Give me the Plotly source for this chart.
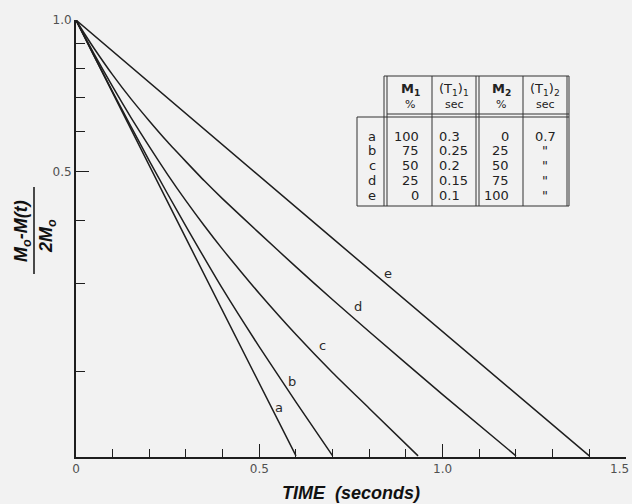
import plotly.graph_objects as go
import math

# ---- data ----
t_a = [0.0, 0.3, 0.6]
v_a = [1.0, 0.368, 0.136]
t_b = [0.0, 0.025, 0.05, 0.1, 0.15, 0.2, 0.25, 0.3, 0.4, 0.5, 0.6, 0.7]
v_b = [1.0, 0.920, 0.847, 0.720, 0.614, 0.525, 0.451, 0.389, 0.292, 0.224, 0.174, 0.136]
t_c = [0.0, 0.025, 0.05, 0.1, 0.15, 0.2, 0.25, 0.3, 0.35, 0.4, 0.45, 0.5, 0.6, 0.7, 0.8, 0.933]
v_c = [1.0, 0.924, 0.855, 0.737, 0.640, 0.560, 0.493, 0.437, 0.390, 0.350, 0.316, 0.286,
       0.237, 0.199, 0.169, 0.136]
t_d = [0.0, 0.025, 0.05, 0.1, 0.15, 0.2, 0.25, 0.3, 0.35, 0.4, 0.5, 0.6, 0.7, 0.8, 1.0, 1.2]
v_d = [1.0, 0.935, 0.877, 0.778, 0.697, 0.630, 0.572, 0.523, 0.479, 0.441, 0.377, 0.323,
       0.278, 0.240, 0.180, 0.136]
t_e = [0.0, 0.7, 1.4]
v_e = [1.0, 0.368, 0.136]

curve_labels = ["a", "b", "c", "d", "e"]
label_t = [0.554, 0.589, 0.671, 0.769, 0.851]
label_v = [0.170, 0.191, 0.225, 0.270, 0.313]

x_tickvals = [0, 0.5, 1.0, 1.5]
x_ticktext = ["0", "0.5", "1.0", ""]
x_last_label = "1.5"
y_tickvals = [1.0, 0.5]
y_ticktext = ["1.0", "0.5"]
y_minor = [0.2, 0.3, 0.4, 0.6, 0.7, 0.8, 0.9]

tbl_rows = ["a", "b", "c", "d", "e"]
tbl_m1 = ["100", "75", "50", "25", "0"]
tbl_t11 = ["0.3", "0.25", "0.2", "0.15", "0.1"]
tbl_m2 = ["0", "25", "50", "75", "100"]
tbl_t12 = ["0.7", "\"", "\"", "\"", "\""]

# ---- layout geometry ----
W, H = 632, 504
ML, MR, MT, MB = 76, 6, 20, 47
PW, PH = W - ML - MR, H - MT - MB

def px(x):
    return (x - ML) / PW

def py(y):
    return (H - MB - y) / PH

INK = "#1e1e1e"
TXT = "#505050"
FONT = "DejaVu Sans"

fig = go.Figure()
for t, v in [(t_a, v_a), (t_b, v_b), (t_c, v_c), (t_d, v_d), (t_e, v_e)]:
    fig.add_trace(go.Scatter(x=t, y=v, mode="lines",
                             line=dict(color=INK, width=1.5, shape="spline", smoothing=0.6),
                             cliponaxis=False, showlegend=False,
                             hoverinfo="skip"))

annotations = []
for lab, lt, lv in zip(curve_labels, label_t, label_v):
    annotations.append(dict(x=lt, y=math.log10(lv), xref="x", yref="y",
                            text=lab, showarrow=False,
                            font=dict(family=FONT, size=13, color="#2a2a2a")))

# last x tick label, kept inside the page edge
annotations.append(dict(x=px(631), y=py(469), xref="paper", yref="paper",
                        xanchor="right", yanchor="middle", text=x_last_label,
                        showarrow=False,
                        font=dict(family=FONT, size=12, color=TXT)))

# axis titles
annotations.append(dict(x=0.5, y=py(493), xref="paper", yref="paper",
                        xanchor="center", yanchor="middle",
                        text="<b><i>TIME  (seconds)</i></b>", showarrow=False,
                        font=dict(family="Liberation Sans", size=18, color="#111")))
annotations.append(dict(x=px(22), y=py(231), xref="paper", yref="paper",
                        xanchor="center", yanchor="middle",
                        text="<b><i>M<sub>o</sub>-M(t)</i></b>", showarrow=False,
                        textangle=-90,
                        font=dict(family="Liberation Sans", size=18, color="#111")))
annotations.append(dict(x=px(48), y=py(236), xref="paper", yref="paper",
                        xanchor="center", yanchor="middle",
                        text="<b><i>2M<sub>o</sub></i></b>", showarrow=False,
                        textangle=-90,
                        font=dict(family="Liberation Sans", size=18, color="#111")))

shapes = [dict(type="line", xref="paper", yref="paper",
               x0=px(34), x1=px(34), y0=py(274), y1=py(187),
               line=dict(color="#111", width=1.5))]

# ---- table ----
def hline(x0, x1, y):
    shapes.append(dict(type="line", xref="paper", yref="paper",
                       x0=px(x0), x1=px(x1), y0=py(y), y1=py(y),
                       line=dict(color="#333", width=1)))

def vline(x, y0, y1):
    shapes.append(dict(type="line", xref="paper", yref="paper",
                       x0=px(x), x1=px(x), y0=py(y0), y1=py(y1),
                       line=dict(color="#333", width=1)))

hline(384, 569, 76)
hline(387, 569, 114)
hline(357, 569, 117)
hline(357, 569, 206)
vline(357, 117, 206)
for xv in [384, 387, 432, 476, 479, 523, 567, 569]:
    vline(xv, 76, 206)

def tt(x, y, s, anchor="center", size=13, bold=False):
    annotations.append(dict(x=px(x), y=py(y), xref="paper", yref="paper",
                            text=(f"<b>{s}</b>" if bold else s), showarrow=False,
                            xanchor=anchor, yanchor="middle",
                            font=dict(family=FONT, size=size, color="#222")))

tt(410, 89, "M<sub>1</sub>", bold=True)
tt(410, 104, "%", size=11)
tt(454, 89, "(T<sub>1</sub>)<sub>1</sub>")
tt(454, 104, "sec", size=11)
tt(501, 89, "M<sub>2</sub>", bold=True)
tt(501, 104, "%", size=11)
tt(545, 89, "(T<sub>1</sub>)<sub>2</sub>")
tt(545, 104, "sec", size=11)

row_y = [136, 150.5, 165.5, 180.5, 195]
for i, yy in enumerate(row_y):
    tt(372, yy, tbl_rows[i])
    tt(421, yy, tbl_m1[i], anchor="right")
    tt(437, yy, tbl_t11[i], anchor="left")
    tt(511, yy, tbl_m2[i], anchor="right")
    tt(545, yy, tbl_t12[i])

fig.update_layout(
    width=W, height=H,
    margin=dict(l=ML, r=MR, t=MT, b=MB, pad=0),
    paper_bgcolor="#f2f2f2", plot_bgcolor="#f2f2f2",
    annotations=annotations, shapes=shapes,
    xaxis=dict(range=[0, 1.5001], showgrid=False, zeroline=False,
               automargin=False,
               showline=True, linecolor=INK, linewidth=2,
               tickvals=x_tickvals, ticktext=x_ticktext,
               ticks="inside", ticklen=13, tickwidth=1.3, tickcolor=INK,
               ticklabeloverflow="allow",
               minor=dict(dtick=0.1, ticks="inside", ticklen=8,
                          tickwidth=1.2, tickcolor=INK, showgrid=False),
               tickfont=dict(family=FONT, size=12, color=TXT)),
    yaxis=dict(type="log", range=[math.log10(0.1353), 0.0001], showgrid=False,
               automargin=False,
               zeroline=False, showline=True, linecolor=INK, linewidth=2,
               tickvals=y_tickvals, ticktext=y_ticktext,
               ticks="inside", ticklen=13, tickwidth=1.3, tickcolor=INK,
               ticklabeloverflow="allow",
               minor=dict(tickvals=y_minor, ticks="inside", ticklen=9,
                          tickwidth=1.2, tickcolor=INK, showgrid=False),
               tickfont=dict(family=FONT, size=12, color=TXT)),
)

fig.write_html("out.html")
